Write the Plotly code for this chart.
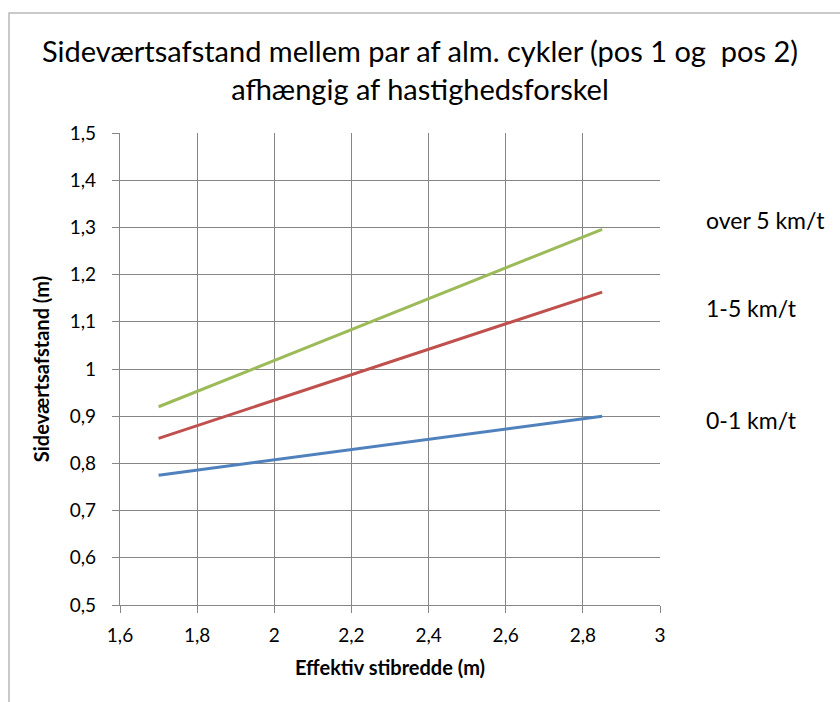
import plotly.graph_objects as go

# Effective path width (m) and lateral distance (m) per speed-difference group
stibredde = [1.70, 2.85]
afstand_0_1 = [0.775, 0.900]
afstand_1_5 = [0.853, 1.163]
afstand_over_5 = [0.920, 1.296]

serie_navne = ["0-1 km/t", "1-5 km/t", "over 5 km/t"]
serie_farver = ["#4f81bd", "#c0504d", "#9bbb59"]

x_ticks = [1.6, 1.8, 2.0, 2.2, 2.4, 2.6, 2.8, 3.0]
x_ticktext = ["1,6", "1,8", "2", "2,2", "2,4", "2,6", "2,8", "3"]
y_ticks = [0.5, 0.6, 0.7, 0.8, 0.9, 1.0, 1.1, 1.2, 1.3, 1.4, 1.5]
y_ticktext = ["0,5", "0,6", "0,7", "0,8", "0,9", "1", "1,1", "1,2", "1,3", "1,4", "1,5"]

FONT = "Lato, 'Open Sans', sans-serif"
GRID = "#868686"

W, H = 840, 702
L, R, T, B = 120, 180, 133, 97

fig = go.Figure()
for navn, farve, ys in zip(serie_navne, serie_farver,
                           [afstand_0_1, afstand_1_5, afstand_over_5]):
    fig.add_trace(go.Scatter(
        x=stibredde, y=ys, mode="lines", name=navn,
        line=dict(color=farve, width=3), showlegend=False,
    ))

# Series labels placed to the right of the plot, level with each line's end
pw = W - L - R
ph = H - T - B
def px_x(px):
    return (px - L) / pw
def px_y(py):
    return 1 - (py - T) / ph

label_y_px = {"over 5 km/t": 220, "1-5 km/t": 308, "0-1 km/t": 420}
for navn in serie_navne:
    fig.add_annotation(
        x=px_x(704), y=px_y(label_y_px[navn]), xref="paper", yref="paper",
        text=navn, showarrow=False, xanchor="left", yanchor="middle",
        font=dict(family=FONT, size=23, color="#000000"),
    )

# Chart frame
fig.add_shape(
    type="rect", xref="paper", yref="paper",
    x0=px_x(9), x1=px_x(846), y0=px_y(708), y1=px_y(13),
    line=dict(color="#b8b8b8", width=1.5), fillcolor="rgba(0,0,0,0)", layer="below",
)

fig.update_layout(
    width=W, height=H,
    margin=dict(l=L, r=R, t=T, b=B, autoexpand=False),
    paper_bgcolor="white", plot_bgcolor="white",
    title=dict(
        text="Sideværtsafstand mellem par af alm. cykler (pos 1 og  pos 2)<br>afhængig af hastighedsforskel",
        x=0.5, xref="container", xanchor="center",
        y=1 - 62 / H, yref="container", yanchor="middle",
        font=dict(family=FONT, size=29, color="#000000"),
    ),
    font=dict(family=FONT, color="#000000"),
)

fig.update_xaxes(
    range=[1.6, 3.0], tickvals=x_ticks, ticktext=x_ticktext,
    showgrid=True, gridcolor=GRID, gridwidth=1.3,
    showline=True, linecolor=GRID, linewidth=1.3,
    ticks="outside", ticklen=7, tickcolor=GRID, tickwidth=1.3,
    tickfont=dict(family=FONT, size=19, color="#000000"),
    zeroline=False, mirror=False, ticklabelstandoff=6,
    title=dict(text="<b>Effektiv stibredde (m)</b>", standoff=16,
               font=dict(family=FONT, size=20, color="#000000")),
)
fig.update_yaxes(
    range=[0.5, 1.5], tickvals=y_ticks, ticktext=y_ticktext,
    showgrid=True, gridcolor=GRID, gridwidth=1.3,
    showline=True, linecolor=GRID, linewidth=1.3,
    ticks="outside", ticklen=7, tickcolor=GRID, tickwidth=1.3,
    tickfont=dict(family=FONT, size=19, color="#000000"),
    zeroline=False, mirror=False, ticklabelstandoff=12,
    title=dict(text="<b>Sideværtsafstand (m)</b>", standoff=14,
               font=dict(family=FONT, size=20, color="#000000")),
)

fig.write_html("out.html")
